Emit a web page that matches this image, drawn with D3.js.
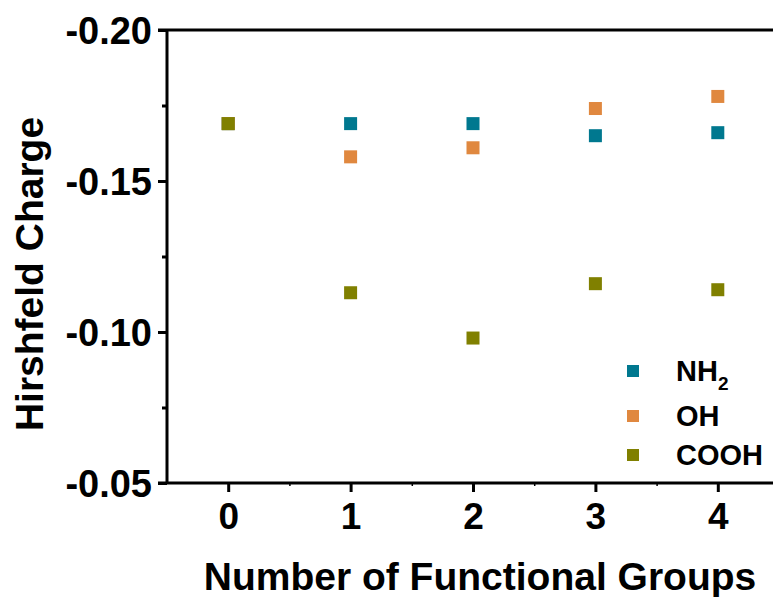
<!DOCTYPE html>
<html>
<head>
<meta charset="utf-8">
<script src="https://cdn.jsdelivr.net/npm/d3@7"></script>
<style>
  body { margin: 0; background: #fff; }
  text { font-family: "Liberation Sans", Arial, sans-serif; font-weight: bold; fill: #000; }
</style>
</head>
<body>
<svg id="chart" width="773" height="597"></svg>
<script>
// values
const groups = [0, 1, 2, 3, 4];
const nh2 = [-0.169, -0.169, -0.169, -0.165, -0.166];
const oh = [-0.169, -0.158, -0.161, -0.174, -0.178];
const cooh = [-0.169, -0.113, -0.098, -0.116, -0.114];
const yTicks = [-0.20, -0.15, -0.10, -0.05];
const yMinor = [-0.175, -0.125, -0.075];
const xMinor = [0.5, 1.5, 2.5, 3.5];

const series = [
    { name: "NH", sub: "2", values: nh2, color: "#00788f" },
    { name: "OH", sub: "", values: oh, color: "#e0883f" },
    { name: "COOH", sub: "", values: cooh, color: "#808000" }
];

const svg = d3.select("#chart");
const plotLeft = 167, plotRight = 779, plotTop = 30, plotBottom = 483;

const x = d3.scaleLinear().domain([-0.5, 4.5]).range([plotLeft, plotRight]);
const y = d3.scaleLinear().domain([-0.20, -0.05]).range([plotTop, plotBottom]);

// y axis (plain hyphen for the minus sign)
const yAxis = svg.append("g")
    .attr("transform", `translate(${plotLeft},0)`)
    .call(d3.axisLeft(y).tickValues(yTicks).tickFormat(d => d.toFixed(2)).tickSize(9).tickSizeOuter(0).tickPadding(6));
yAxis.select(".domain").remove();
yAxis.selectAll("line").attr("stroke", "#000").attr("stroke-width", 3);
yAxis.selectAll("text").style("font-size", "38px").attr("dy", "0.35em").attr("fill", "#000");

svg.append("g")
    .attr("transform", `translate(${plotLeft},0)`)
    .call(d3.axisLeft(y).tickValues(yMinor).tickFormat("").tickSize(5).tickSizeOuter(0))
    .call(g => g.select(".domain").remove())
    .selectAll("line").attr("stroke", "#000").attr("stroke-width", 3);

// x axis
const xAxis = svg.append("g")
    .attr("transform", `translate(0,${plotBottom})`)
    .call(d3.axisBottom(x).tickValues(groups).tickFormat(d3.format("d")).tickSize(9).tickSizeOuter(0).tickPadding(11));
xAxis.select(".domain").remove();
xAxis.selectAll("line").attr("stroke", "#000").attr("stroke-width", 3);
xAxis.selectAll("text").style("font-size", "37px").attr("fill", "#000");

svg.append("g")
    .attr("transform", `translate(0,${plotBottom})`)
    .call(d3.axisBottom(x).tickValues(xMinor).tickFormat("").tickSize(3).tickSizeOuter(0))
    .call(g => g.select(".domain").remove())
    .selectAll("line").attr("stroke", "#000").attr("stroke-width", 1.5);

// frame lines
svg.append("line").attr("x1", plotLeft - 9).attr("x2", 773).attr("y1", y(-0.20)).attr("y2", y(-0.20))
    .attr("stroke", "#000").attr("stroke-width", 3);
svg.append("line").attr("x1", plotLeft - 9).attr("x2", 773).attr("y1", y(-0.05)).attr("y2", y(-0.05))
    .attr("stroke", "#000").attr("stroke-width", 3);
svg.append("line").attr("x1", plotLeft).attr("x2", plotLeft).attr("y1", y(-0.20)).attr("y2", y(-0.05))
    .attr("stroke", "#000").attr("stroke-width", 3);

// points
const size = 13;
series.forEach(s => {
    svg.append("g").selectAll("rect")
        .data(s.values)
        .join("rect")
        .attr("x", (d, i) => x(groups[i]) - size / 2)
        .attr("y", d => y(d) - size / 2)
        .attr("width", size)
        .attr("height", size)
        .attr("fill", s.color);
});

// legend
const legendY = [371, 416, 455];
const legend = svg.append("g");
series.forEach((s, i) => {
    legend.append("rect")
        .attr("x", 633 - 6).attr("y", legendY[i] - 6)
        .attr("width", 12).attr("height", 12)
        .attr("fill", s.color);
    const t = legend.append("text")
        .attr("x", 676).attr("y", legendY[i] + 10)
        .style("font-size", "29px")
        .text(s.name);
    if (s.sub) {
        t.append("tspan").attr("dy", 9).style("font-size", "19px").text(s.sub);
    }
});

// axis titles
svg.append("text")
    .attr("x", 480).attr("y", 590)
    .attr("text-anchor", "middle")
    .style("font-size", "39px")
    .text("Number of Functional Groups");

svg.append("text")
    .attr("transform", "translate(43,274) rotate(-90)")
    .attr("text-anchor", "middle")
    .style("font-size", "39px")
    .text("Hirshfeld Charge");
</script>
</body>
</html>
